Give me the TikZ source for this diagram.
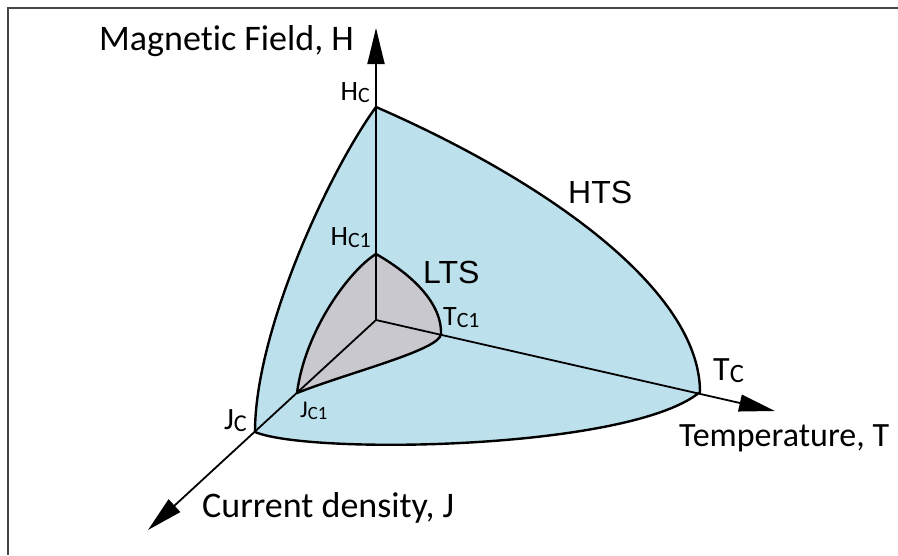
\documentclass[tikz,border=0pt]{standalone}
\usepackage{graphicx}
\usepackage{fontspec}
\setmainfont{Carlito}[Ligatures=NoCommon]
\newfontfamily\arialfont{Liberation Sans}
\usepackage{tikz}
\usetikzlibrary{arrows.meta, positioning}
\definecolor{cHTS}{RGB}{189,225,236}
\definecolor{cLTS}{RGB}{201,200,206}
\definecolor{cFrame}{RGB}{70,70,70}
\newcommand{\critsub}[1]{\raisebox{-0.07em}{\scalebox{0.78}{#1}}}
\tikzset{
	axisline/.style={line width=1.8pt, -{Triangle[length=36pt, width=17pt]}},
	border/.style  ={line width=2.4pt, line join=round},
	axlabel/.style ={font=\fontsize{36}{40}\selectfont, inner sep=0pt},
	ptlabel/.style ={font=\fontsize{28}{32}\selectfont, inner sep=0pt},
	zone/.style    ={font=\arialfont\fontsize{32}{36}\selectfont, inner sep=0pt},
}

\begin{document}
\begin{tikzpicture}[x=1pt, y=-1pt]
	\useasboundingbox (0,0) rectangle (898,555);
	\draw[cFrame, line width=1.8pt] (8,555) -- (8,8) -- (898,8);
	% critical points on the three axes
	\coordinate (o)   at (376,320);
	\coordinate (hc)  at (376,107);
	\coordinate (tc)  at (700,392);
	\coordinate (jc)  at (255,432);
	\coordinate (hc1) at (376,254);
	\coordinate (tc1) at (441,334);
	\coordinate (jc1) at (297,393);
	\coordinate (htip) at (376,28);
	\coordinate (ttip) at (775,411);
	\coordinate (jtip) at (148,530);
	% HTS surface
	\draw[border, fill=cHTS] (hc) .. controls (546,181) and (700,290) .. (tc)
		.. controls (630,450) and (310,455) .. (jc)
		.. controls (255,330) and (330,170) .. (hc) -- cycle;
	% LTS surface
	\draw[border, fill=cLTS] (hc1) .. controls (406,271) and (442,300) .. (tc1)
		.. controls (440,350) and (350,372) .. (jc1)
		.. controls (305,330) and (350,270) .. (hc1) -- cycle;
	% axes
	\draw[axisline] (o) -- (htip);
	\draw[axisline] (o) -- (ttip);
	\draw[axisline] (o) -- (jtip);
	\node[axlabel, anchor=base west] (hname) at (99,50) {Magnetic Field, H};
	\node[axlabel, font=\fontsize{34}{38}\selectfont, anchor=base west] (tname) at (679,446) {Temperature, T};
	\node[axlabel, anchor=base west] (jname) at (202,517) {Current density, J};
	\node[zone, anchor=base west] (hts) at (568,203) {HTS};
	\node[zone, anchor=base west] (lts) at (423,283) {LTS};
	\node[ptlabel, anchor=south east, above left=4pt and 6pt of hc] (hclbl) {H\critsub{C}};
	\node[ptlabel, anchor=south east, above left=6pt and 5pt of hc1] (hc1lbl) {H\critsub{C1}};
	\node[ptlabel, above right=6pt and 2pt of tc1] (tc1lbl) {T\critsub{C1}};
	\node[ptlabel, font=\fontsize{34}{38}\selectfont, above right=9pt and 13pt of tc] (tclbl) {T\critsub{C}};
	\node[ptlabel, font=\fontsize{31}{35}\selectfont, above left=0pt and 8pt of jc] (jclbl) {J\critsub{C}};
	\node[ptlabel, font=\fontsize{24}{28}\selectfont, below right=9pt and 3pt of jc1] (jc1lbl) {J\critsub{C1}};
\end{tikzpicture}
\end{document}
